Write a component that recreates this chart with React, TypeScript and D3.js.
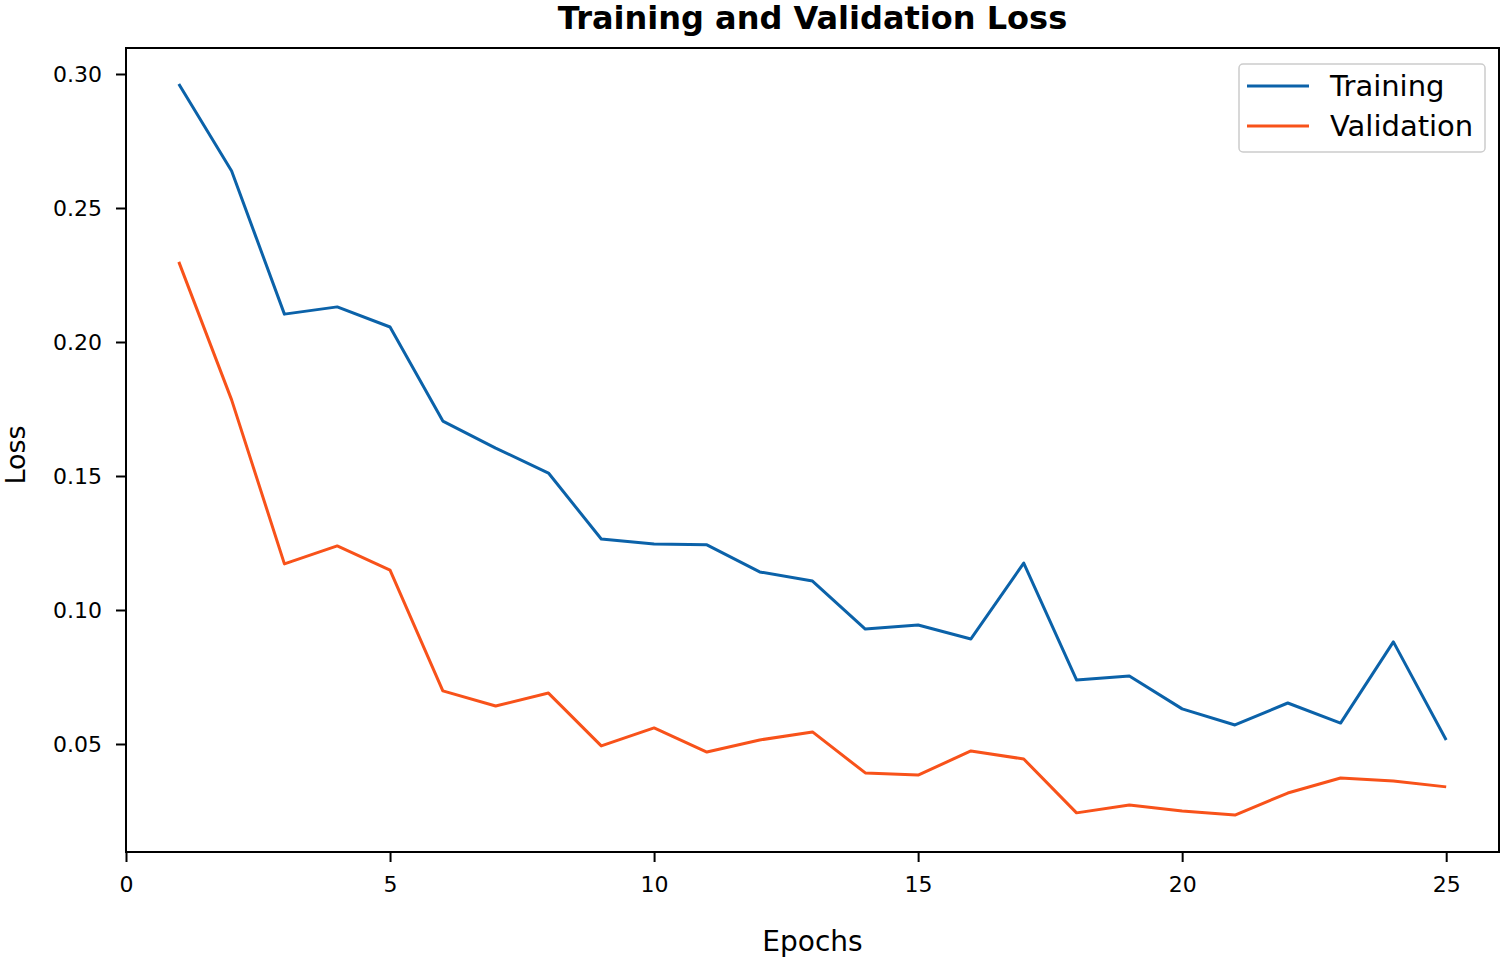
import { useEffect, useRef } from 'react';
import * as d3 from 'd3';

// Values
const epochs = [1, 2, 3, 4, 5, 6, 7, 8, 9, 10, 11, 12, 13, 14, 15, 16, 17, 18, 19, 20, 21, 22, 23, 24, 25];
const trainingLoss = [
  0.2963, 0.2638, 0.2104, 0.2131, 0.2056, 0.1705, 0.1604, 0.1511, 0.1265, 0.1246,
  0.1243, 0.1142, 0.1108, 0.0929, 0.0944, 0.0892, 0.1175, 0.0739, 0.0754, 0.0631,
  0.0571, 0.0653, 0.0578, 0.0881, 0.0515,
];
const validationLoss = [
  0.2299, 0.1784, 0.1172, 0.1239, 0.1149, 0.0698, 0.0642, 0.0690, 0.0493, 0.0560,
  0.0470, 0.0515, 0.0545, 0.0392, 0.0384, 0.0474, 0.0444, 0.0243, 0.0272, 0.0250,
  0.0235, 0.0317, 0.0373, 0.0362, 0.0340,
];
const xTicks = [0, 5, 10, 15, 20, 25];
const yTicks = [0.05, 0.1, 0.15, 0.2, 0.25, 0.3];
const seriesNames = ['Training', 'Validation'];
const seriesColors = ['#0b62a9', '#f8521a'];

const FONT = 'DejaVu Sans, sans-serif';

export default function App() {
  const svgRef = useRef<SVGSVGElement>(null);

  useEffect(() => {
    if (!svgRef.current) return;
    const svg = d3.select(svgRef.current);
    svg.selectAll('*').remove();

    const width = 1505;
    const height = 960;
    const margin = { top: 48, right: 6, bottom: 108, left: 126 };
    const chartWidth = width - margin.left - margin.right;
    const chartHeight = height - margin.top - margin.bottom;

    const x = d3.scaleLinear().domain([0, 26]).range([0, chartWidth]);
    const y = d3.scaleLinear().domain([0.0097, 0.3097]).range([chartHeight, 0]);

    svg.append('rect').attr('width', width).attr('height', height).attr('fill', '#fff');

    const g = svg.append('g').attr('transform', `translate(${margin.left}, ${margin.top})`);

    // Lines
    const series = [trainingLoss, validationLoss];
    const line = d3.line<number>()
      .x((_, i) => x(epochs[i]))
      .y(d => y(d));

    series.forEach((vals, i) => {
      g.append('path')
        .datum(vals)
        .attr('fill', 'none')
        .attr('stroke', seriesColors[i])
        .attr('stroke-width', 3)
        .attr('stroke-linejoin', 'round')
        .attr('d', line);
    });

    // Axes
    const xAxis = g.append('g')
      .attr('transform', `translate(0, ${chartHeight})`)
      .call(d3.axisBottom(x).tickValues(xTicks).tickFormat(d3.format('d')).tickSize(10).tickPadding(14));
    const yAxis = g.append('g')
      .call(d3.axisLeft(y).tickValues(yTicks).tickFormat(d3.format('.2f')).tickSize(10).tickPadding(14));

    [xAxis, yAxis].forEach(ax => {
      ax.select('.domain').remove();
      ax.selectAll('line').attr('stroke', '#000').attr('stroke-width', 2);
      ax.selectAll('text')
        .attr('fill', '#000')
        .style('font-family', FONT)
        .style('font-size', '22px');
    });

    // Frame
    g.append('rect')
      .attr('width', chartWidth)
      .attr('height', chartHeight)
      .attr('fill', 'none')
      .attr('stroke', '#000')
      .attr('stroke-width', 2);

    // Title & labels
    svg.append('text')
      .attr('x', margin.left + chartWidth / 2)
      .attr('y', 29)
      .attr('text-anchor', 'middle')
      .style('font-family', FONT)
      .style('font-weight', 'bold')
      .style('font-size', '32px')
      .attr('fill', '#000')
      .text('Training and Validation Loss');

    svg.append('text')
      .attr('x', margin.left + chartWidth / 2)
      .attr('y', 951)
      .attr('text-anchor', 'middle')
      .style('font-family', FONT)
      .style('font-size', '28px')
      .attr('fill', '#000')
      .text('Epochs');

    svg.append('text')
      .attr('transform', `translate(25, ${margin.top + chartHeight / 2 + 5}) rotate(-90)`)
      .attr('text-anchor', 'middle')
      .style('font-family', FONT)
      .style('font-size', '27px')
      .attr('fill', '#000')
      .text('Loss');

    // Legend
    const lg = svg.append('g').attr('transform', 'translate(1239, 64)');
    lg.append('rect')
      .attr('width', 246)
      .attr('height', 88)
      .attr('rx', 4)
      .attr('fill', '#fff')
      .attr('stroke', '#ccc')
      .attr('stroke-width', 1.5);
    seriesNames.forEach((name, i) => {
      const cy = 22 + i * 40;
      lg.append('line')
        .attr('x1', 8).attr('x2', 70)
        .attr('y1', cy).attr('y2', cy)
        .attr('stroke', seriesColors[i])
        .attr('stroke-width', 3);
      lg.append('text')
        .attr('x', 91)
        .attr('y', cy + 10)
        .style('font-family', FONT)
        .style('font-size', '29px')
        .attr('fill', '#000')
        .text(name);
    });
  }, []);

  return (
    <div style={{ position: 'absolute', left: 0, top: 0 }}>
      <svg ref={svgRef} width={1505} height={960} style={{ display: 'block' }} />
    </div>
  );
}
